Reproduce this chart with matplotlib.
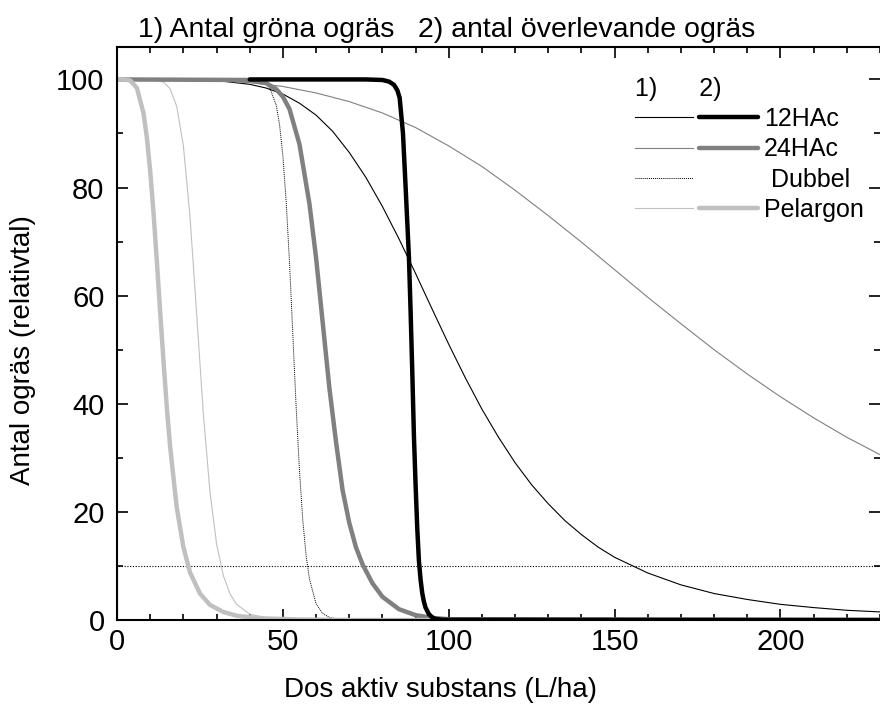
import matplotlib
matplotlib.use('Agg')
import matplotlib.pyplot as plt
from matplotlib.lines import Line2D
from matplotlib.legend_handler import HandlerTuple
from matplotlib.ticker import MultipleLocator

plt.rcParams['font.family'] = ['Liberation Sans', 'DejaVu Sans']

# 1) antal gröna ogräs (thin lines)
x_12hac_1 = [0, 20, 30, 40, 45, 50, 55, 60, 65, 70, 75, 80, 85, 90, 95, 100, 105, 110, 115,
             120, 125, 130, 135, 140, 145, 150, 160, 170, 180, 190, 200, 210, 220, 230]
y_12hac_1 = [100, 100, 99.8, 99.1, 98.4, 97.3, 95.6, 93.4, 90.4, 86.5, 81.9, 76.5, 70.5, 64.1,
             57.5, 51.0, 44.8, 39.0, 33.8, 29.1, 25.0, 21.5, 18.4, 15.8, 13.5, 11.6, 8.7, 6.5,
             4.9, 3.8, 2.9, 2.3, 1.8, 1.5]

x_24hac_1 = [0, 10, 20, 30, 40, 50, 60, 70, 80, 90, 100, 110, 120, 130, 140, 150, 160,
             170, 180, 190, 200, 210, 220, 230]
y_24hac_1 = [100, 100, 99.9, 99.8, 99.4, 98.7, 97.5, 95.9, 93.8, 91.1, 87.7, 83.9, 79.5,
             74.8, 69.9, 64.8, 59.7, 54.8, 50.0, 45.5, 41.3, 37.4, 33.8, 30.6]

x_dubbel_1 = [0, 30, 40, 44, 46, 48, 49, 50, 51, 52, 53, 54, 55, 56, 57, 58, 60, 62, 64, 67, 75, 230]
y_dubbel_1 = [100, 100, 100, 99.6, 98.5, 95.2, 91.6, 85.8, 77.3, 66.0, 52.7, 39.3, 27.6, 18.4,
              11.9, 7.6, 3.0, 1.2, 0.5, 0.1, 0, 0]

x_pel_1 = [0, 10, 14, 16, 18, 20, 22, 24, 26, 28, 30, 32, 34, 36, 40, 45, 50, 60, 230]
y_pel_1 = [100, 100, 99.5, 98.3, 95.0, 87.7, 74.6, 56.6, 38.3, 23.8, 14.1, 8.3, 4.9, 2.9,
           1.1, 0.4, 0.1, 0, 0]

# 2) antal överlevande ogräs (thick lines)
x_12hac_2 = [40, 75, 80, 82, 83.5, 84.5, 85.2, 86.2, 87, 88, 88.5, 89, 89.5, 90, 90.5, 91,
             91.5, 92, 92.5, 93, 94, 95, 96, 98, 230]
y_12hac_2 = [100, 100, 99.9, 99.6, 99.0, 98.0, 96.6, 90.0, 80.0, 67.0, 57.0, 46.0, 34.0, 25.0,
             17.0, 11.0, 7.5, 5.0, 3.4, 2.3, 1.1, 0.5, 0.2, 0.05, 0]

x_24hac_2 = [0, 40, 45, 48, 50, 52, 55, 58, 60, 62, 64, 66, 68, 70, 72, 74, 77, 80, 85, 90,
             95, 100, 230]
y_24hac_2 = [100, 99.9, 99.3, 98.2, 96.8, 94.5, 88.0, 77.0, 67.0, 55.0, 43.0, 33.0, 24.0, 18.0,
             13.5, 10.3, 6.8, 4.3, 2.0, 0.9, 0.4, 0.15, 0]

x_pel_2 = [0, 2, 4, 6, 8, 9, 10, 11, 12, 13, 14, 15, 16, 18, 20, 22, 25, 28, 32, 36, 40, 45,
           55, 70, 230]
y_pel_2 = [100, 100, 99.8, 98.4, 93.7, 89.2, 83.0, 75.3, 66.4, 57.0, 47.9, 39.4, 32.1, 20.8,
           13.5, 8.8, 4.9, 2.8, 1.5, 0.8, 0.5, 0.28, 0.1, 0, 0]

# 10 % reference
ref_x = [0, 0, 230]
ref_y = [0, 10, 10]

series_names = ['12HAc', '24HAc', ' Dubbel', 'Pelargon']

fig = plt.figure(figsize=(8.8, 7.09), dpi=100)
ax = fig.add_axes([0.133, 0.1255, 0.867, 0.8082])

ax.plot(ref_x, ref_y, color='black', linestyle=(0, (1, 1.5)), linewidth=0.8)

t1, = ax.plot(x_12hac_1, y_12hac_1, color='black', linewidth=0.8)
t2, = ax.plot(x_24hac_1, y_24hac_1, color='#808080', linewidth=0.8)
t3, = ax.plot(x_dubbel_1, y_dubbel_1, color='black', linestyle=(0, (1, 1)), linewidth=0.7)
t4, = ax.plot(x_pel_1, y_pel_1, color='#c0c0c0', linewidth=0.8)

b2, = ax.plot(x_24hac_2, y_24hac_2, color='#808080', linewidth=3.2, solid_capstyle='round')
b4, = ax.plot(x_pel_2, y_pel_2, color='#c0c0c0', linewidth=3.2, solid_capstyle='round')
b1, = ax.plot(x_12hac_2, y_12hac_2, color='black', linewidth=3.2, solid_capstyle='round')

ax.set_xlim(0, 230)
ax.set_ylim(0, 106)
ax.xaxis.set_major_locator(MultipleLocator(50))
ax.xaxis.set_minor_locator(MultipleLocator(10))
ax.yaxis.set_major_locator(MultipleLocator(20))
ax.yaxis.set_minor_locator(MultipleLocator(10))
ax.tick_params(which='both', direction='in', top=True, right=True, width=1.2, labelsize=21)
ax.tick_params(which='major', length=8)
ax.tick_params(which='minor', length=4)
ax.tick_params(axis='x', pad=6)
ax.tick_params(axis='y', pad=9)
for s in ax.spines.values():
    s.set_linewidth(1.5)
ax.spines['right'].set_visible(False)

empty = Line2D([], [], linestyle='none')
leg = ax.legend(handles=[(t1, b1), (t2, b2), (t3, empty), (t4, b4)], labels=series_names,
                handler_map={tuple: HandlerTuple(ndivide=None, pad=0.25)},
                loc='upper left', bbox_to_anchor=(0.679, 0.948), frameon=False,
                fontsize=18, handlelength=4.9, handletextpad=0.25, labelspacing=0.25,
                borderpad=0, borderaxespad=0, title='1)      2)', title_fontsize=18,
                alignment='left')

fig.text(0.507, 0.958, '1) Antal gröna ogräs   2) antal överlevande ogräs',
         ha='center', va='center', fontsize=20.5)
fig.text(0.5, 0.027, 'Dos aktiv substans (L/ha)', ha='center', va='center', fontsize=20)
fig.text(0.026, 0.506, 'Antal ogräs (relativtal)', ha='center', va='center',
         rotation=90, fontsize=20)

fig.savefig('out.png', dpi=100)
